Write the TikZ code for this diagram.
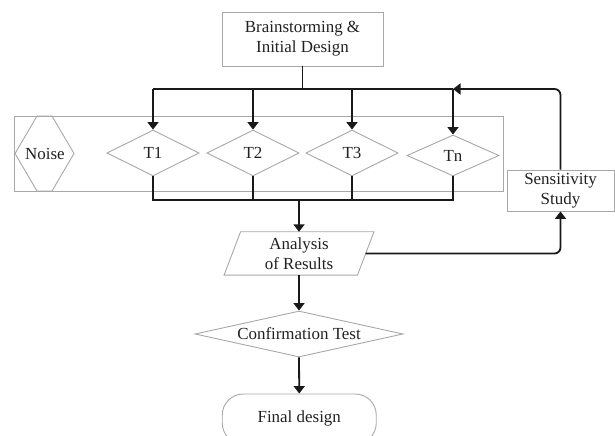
\documentclass[tikz,border=0pt]{standalone}
\usepackage{fontspec}
\setmainfont{Liberation Serif}
\usetikzlibrary{shapes.geometric,arrows.meta}
\definecolor{shapegray}{HTML}{A8A8A8}
\definecolor{txt}{HTML}{202020}
\tikzset{
  shapeline/.style={draw=shapegray, line width=0.9bp},
  box/.style={shapeline, rectangle, inner sep=0pt, align=center, text=txt},
  dia/.style={shapeline, diamond, inner sep=0pt, aspect=2, minimum width=92bp, minimum height=46bp, text=txt},
  conn/.style={draw=black!90, line width=1.8bp},
  arr/.style={conn, -{Triangle[width=11bp,length=7.5bp]}},
  lbl/.style={text=txt, align=center, inner sep=0pt},
}
\begin{document}
\begin{tikzpicture}[x=1bp,y=-1bp,
  every node/.append style={font=\fontsize{17}{20}\selectfont}]
\useasboundingbox (0,0) rectangle (615,436);

% nodes
\node[box, minimum width=161bp, minimum height=54bp] (top) at (302.5,39) {Brainstorming \&\\Initial Design};
\node[box, minimum width=489bp, minimum height=75bp] (panel) at (258.5,153.5) {};
\draw[shapeline] (15,153.5) -- (37,116) -- (52,116) -- (74,153.5) -- (52,191) -- (37,191) -- cycle;
\node[lbl] (noise) at (45,153.5) {Noise};
\node[dia] (T1) at (153,153) {T1};
\node[dia] (T2) at (253,153) {T2};
\node[dia] (T3) at (352,153) {T3};
\node[dia, minimum height=41bp] (Tn) at (453,155.5) {Tn};
\node[box, minimum width=107bp, minimum height=41bp] (sens) at (560.5,190.5) {Sensitivity\\Study};
\node[lbl, minimum width=133bp, minimum height=43bp] (anal) at (299,253.5) {Analysis\\of Results};
\draw[shapeline] ([xshift=8.25bp]anal.north west) -- ([xshift=8.25bp]anal.north east)
  -- ([xshift=-8.25bp]anal.south east) -- ([xshift=-8.25bp]anal.south west) -- cycle;
\node[dia, aspect=4.5, minimum width=208bp, minimum height=46bp] (conf) at (299,334) {Confirmation Test};
\node[box, rounded corners=21bp, minimum width=154bp, minimum height=50bp] (final) at (299.25,419) {\raisebox{4bp}{Final design}};

% connectors
\coordinate (tb) at (302.5,89);
\coordinate (bb) at (299,200);
\draw[conn] (top.south) -- (tb);
\draw[conn] (T1.north |- tb) -- (Tn.north |- tb);
\draw[arr] (T1.north |- tb) -- (T1.north);
\draw[arr] (T2.north |- tb) -- (T2.north);
\draw[arr] (T3.north |- tb) -- (T3.north);
\draw[arr] (Tn.north |- tb) -- (Tn.north);
\draw[conn] (T1.south) -- (T1.south |- bb) -- (Tn.south |- bb) -- (Tn.south);
\draw[conn] (T2.south) -- (T2.south |- bb);
\draw[conn] (T3.south) -- (T3.south |- bb);
\draw[arr] (bb) -- (anal.north);
\draw[arr] (anal.south) -- (conf.north);
\draw[arr] (conf.south) -- (final.north);
\draw[arr, rounded corners=6bp] (anal.east) -| (sens.south);
\draw[arr, rounded corners=6bp] (sens.north) |- (Tn.north |- tb);
\end{tikzpicture}
\end{document}
